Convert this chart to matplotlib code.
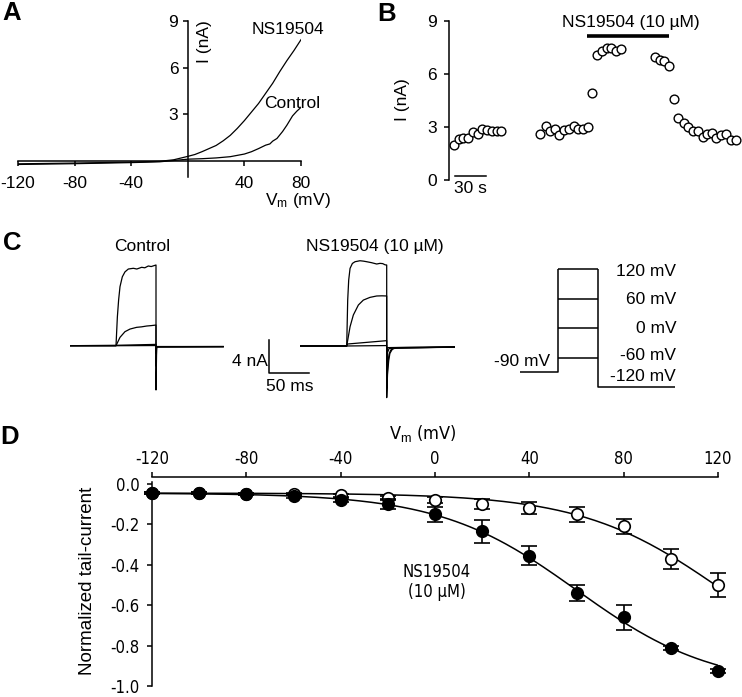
import numpy as np
import matplotlib
matplotlib.use("Agg")
import matplotlib.pyplot as plt
from matplotlib import font_manager
from matplotlib.font_manager import FontProperties

# ---------------- data ----------------
# Panel A: ramp I-V relations (mV, nA)
a_v_ns = [-120, -80, -40, -20, -10, 0, 5, 10, 15, 20, 25, 30, 35, 40, 45, 50, 55, 60, 65, 70, 75, 80]
a_i_ns = [-0.18, -0.13, -0.07, -0.02, 0.08, 0.3, 0.42, 0.6, 0.8, 1.0, 1.3, 1.65, 2.1, 2.6, 3.15,
          3.7, 4.35, 5.0, 5.75, 6.45, 7.1, 7.8]
a_v_ctrl = [-120, -80, -40, -20, 0, 10, 20, 30, 40, 45, 50, 55, 58, 60, 63, 67, 70, 74, 77, 80]
a_i_ctrl = [-0.22, -0.17, -0.1, -0.05, 0.12, 0.15, 0.2, 0.28, 0.45, 0.6, 0.8, 1.02, 1.1, 1.28,
            1.45, 1.9, 2.3, 2.9, 3.2, 3.45]
a_xticks = [-120, -80, -40, 40, 80]
a_yticks = [3, 6, 9]

# Panel B: time course (s, nA)
b_time_s = [4.9, 9.3, 14.0, 18.9, 23.7, 27.9, 31.9, 36.8, 41.7, 46.6, 50.8,
            88.9, 94.3, 98.4, 103.3, 107.7, 112.4, 117.0, 121.8, 126.2, 130.9, 135.8,
            140.0, 144.6, 149.0, 153.9, 158.6, 163.3, 167.9,
            201.1, 205.9, 210.3, 215.2,
            219.8, 224.0, 228.9, 233.2, 238.1, 242.6, 247.5, 251.8, 256.7, 260.9,
            265.7, 270.3, 275.2, 280.1]
b_current_na = [2.0, 2.3, 2.4, 2.4, 2.7, 2.6, 2.9, 2.85, 2.75, 2.75, 2.75,
                2.6, 3.05, 2.8, 2.9, 2.55, 2.85, 2.9, 3.05, 2.9, 2.9, 3.0,
                4.9, 7.1, 7.3, 7.5, 7.5, 7.3, 7.4,
                6.95, 6.8, 6.75, 6.45,
                4.6, 3.5, 3.2, 3.0, 2.8, 2.8, 2.45, 2.6, 2.65, 2.4,
                2.55, 2.6, 2.25, 2.25]
b_drug_on_s = 134.5
b_drug_off_s = 214.7
b_yticks = [0, 3, 6, 9]
b_scalebar_s = 30

# Panel C: current traces (ms, nA)
c_ctrl_t = [
    [-58, 0, 1.7, 3.3, 5, 7.9, 11.2, 15.4, 21.7, 26, 32.1, 36, 40.4, 44, 50, 50, 50.8, 134],
    [-58, 0, 5, 11.2, 17.5, 25.8, 32, 38.3, 44, 50, 50, 50.8, 134],
    [-58, 0, 50, 50, 50.8, 134],
    [-58, 0, 50, 50, 50.8, 134],
]
c_ctrl_i = [
    [0, 0, 3.5, 5.6, 7.2, 8.4, 9.0, 9.35, 9.44, 9.35, 9.56, 9.5, 9.72, 9.65, 9.84, -5.4, -0.15, -0.12],
    [0, 0, 1.02, 1.71, 2.03, 2.24, 2.3, 2.4, 2.45, 2.52, -2.5, -0.15, -0.12],
    [0, 0.05, 0.16, -1.0, -0.12, -0.1],
    [0, 0, 0.02, -0.5, -0.1, -0.1],
]
c_ns_t = [
    [-58, 0, 1.25, 2.5, 4.2, 7.1, 10.4, 16.6, 21, 25, 31.2, 37.5, 41.6, 45, 48, 50, 50, 51, 52.5, 54, 57, 62, 135],
    [-58, 0, 4.2, 8.3, 14.6, 20.8, 29.1, 37.5, 44, 50, 50, 51.5, 53, 55, 59, 135],
    [-58, 0, 1, 50, 50, 51, 53, 135],
    [-58, 0, 50, 50, 51, 135],
]
c_ns_i = [
    [0, 0, 5.6, 8.05, 9.47, 10.07, 10.28, 10.4, 10.35, 10.28, 10.16, 10.0, 10.08, 10.05, 9.9, 9.88, -6.3, -3.5, -1.8, -0.9, -0.4, -0.2, -0.15],
    [0, 0, 2.35, 3.78, 5.0, 5.6, 5.93, 6.1, 6.12, 6.1, -4.5, -2.0, -1.0, -0.5, -0.25, -0.15],
    [0, 0, 0.24, 0.65, -2.5, -0.8, -0.3, -0.12],
    [0, 0, 0.05, -1.0, -0.2, -0.08],
]
c_scale_na = 4
c_scale_ms = 50
# voltage protocol
p_levels_mv = [120, 60, 0, -60]
p_hold_mv = -90
p_tail_mv = -120
p_step_ms = 50
p_pre_ms = 47.5
p_post_ms = 96
p_labels = ["120 mV", "60 mV", "0 mV", "-60 mV", "-120 mV"]

# Panel D: normalized tail current vs Vm
d_v = [-120, -100, -80, -60, -40, -20, 0, 20, 40, 60, 80, 100, 120]
d_ctrl = [-0.045, -0.045, -0.05, -0.05, -0.055, -0.07, -0.08, -0.10, -0.12, -0.15, -0.21, -0.37, -0.50]
d_ctrl_err = [0.005, 0.005, 0.005, 0.005, 0.008, 0.01, 0.015, 0.025, 0.03, 0.037, 0.037, 0.05, 0.06]
d_ns = [-0.045, -0.045, -0.05, -0.06, -0.08, -0.10, -0.15, -0.235, -0.355, -0.54, -0.66, -0.81, -0.925]
d_ns_err = [0.005, 0.005, 0.005, 0.008, 0.01, 0.025, 0.038, 0.056, 0.047, 0.04, 0.061, 0.01, 0.01]
# Boltzmann fit parameters (base, amplitude, V1/2, slope)
d_fit_ctrl = (-0.045, -0.96, 122.0, 30.0)
d_fit_ns = (-0.045, -0.96, 60.0, 29.0)
d_xticks = [-120, -80, -40, 0, 40, 80, 120]
d_yticks = [0.0, -0.2, -0.4, -0.6, -0.8, -1.0]

# ---------------- style ----------------
W, H, DPI = 742, 697, 100
plt.rcParams['font.family'] = ['Liberation Sans', 'DejaVu Sans']
plt.rcParams['font.size'] = 12.5
plt.rcParams['mathtext.fontset'] = 'custom'
plt.rcParams['mathtext.rm'] = 'Liberation Sans'
plt.rcParams['mathtext.it'] = 'Liberation Sans'
plt.rcParams['axes.linewidth'] = 1.1
for k in ['xtick', 'ytick']:
    plt.rcParams[k + '.major.width'] = 1.1
    plt.rcParams[k + '.major.size'] = 3.8
    plt.rcParams[k + '.direction'] = 'out'

# narrow font for panel D if available
narrow_path = None
narrow_size = 13
for f in font_manager.fontManager.ttflist:
    if f.name == 'Liberation Sans Narrow' and f.style == 'normal' and str(f.weight) in ('400', 'normal', 'regular'):
        narrow_path = f.fname
        break
if narrow_path is None:
    for f in font_manager.fontManager.ttflist:
        if f.name == 'DejaVu Sans' and f.stretch == 'condensed' and f.style == 'normal' and str(f.weight) in ('400', 'normal'):
            narrow_path = f.fname
            narrow_size = 12
            break
if narrow_path is not None:
    fpD = FontProperties(fname=narrow_path, size=narrow_size)
    fpDv = FontProperties(fname=narrow_path, size=narrow_size + 1)
else:
    fpD = FontProperties(family='Liberation Sans', size=11.5)
    fpDv = FontProperties(family='Liberation Sans', size=12.5)

fig = plt.figure(figsize=(W / DPI, H / DPI), dpi=DPI)


def add_ax(left, top, width, height):
    return fig.add_axes([left / W, 1 - (top + height) / H, width / W, height / H])


def ftext(x, y, s, **kw):
    return fig.text(x / W, 1 - y / H, s, **kw)


# ---------------- Panel A ----------------
axA = add_ax(18, 21, 283, 155.6)
axA.plot(a_v_ns, a_i_ns, color='black', lw=0.9)
axA.plot(a_v_ctrl, a_i_ctrl, color='black', lw=0.9)
axA.set_xlim(-120, 80)
axA.set_ylim(-1, 9)
axA.spines['left'].set_position(('data', 0))
axA.spines['bottom'].set_position(('data', 0))
axA.spines['top'].set_visible(False)
axA.spines['right'].set_visible(False)
axA.set_xticks(a_xticks)
axA.set_xticklabels([str(v) for v in a_xticks])
axA.set_yticks(a_yticks)
axA.set_yticklabels([str(v) for v in a_yticks])
axA.tick_params(axis='x', pad=7)
axA.tick_params(axis='y', pad=3)
axA.patch.set_alpha(0)
ftext(205, 42, 'I (nA)', rotation=90, ha='center', va='center')
ftext(288, 30, 'NS19504', ha='center', va='center')
ftext(292, 103, 'Control', ha='center', va='center')
ftext(298, 201, r'V$_\mathrm{m}$ (mV)', ha='center', va='center')

# ---------------- Panel B ----------------
axB = add_ax(449, 21, 293, 159)
axB.plot(b_time_s, b_current_na, 'o', mfc='white', mec='black', ms=6.3, mew=1.0, clip_on=False)
axB.plot([b_drug_on_s, b_drug_off_s], [8.15, 8.15], color='black', lw=2.6, solid_capstyle='butt', clip_on=False)
axB.plot([6, 6 + b_scalebar_s], [0.22, 0.22], color='black', lw=1.1, clip_on=False)
axB.text(6 + b_scalebar_s / 2, -0.5, f'{b_scalebar_s} s', ha='center', va='center')
axB.set_xlim(0, 286)
axB.set_ylim(0, 9)
for s in ['top', 'right', 'bottom']:
    axB.spines[s].set_visible(False)
axB.set_xticks([])
axB.set_yticks(b_yticks)
axB.set_yticklabels([str(v) for v in b_yticks])
axB.tick_params(axis='y', pad=5)
axB.patch.set_alpha(0)
ftext(402, 100, 'I (nA)', rotation=90, ha='center', va='center')
ftext(631, 23, 'NS19504 (10 µM)', ha='center', va='center')

# ---------------- Panel C ----------------
axC1 = add_ax(69.6, 255, 154.4, 145)
for t, i in zip(c_ctrl_t, c_ctrl_i):
    axC1.plot(t, i, color='black', lw=0.9)
axC1.set_xlim(-58, 135)
axC1.set_ylim(-6.62, 11.06)
axC1.axis('off')
# scale bar
sx, sy = 191.6, -3.29
axC1.plot([sx, sx, sx + c_scale_ms], [sy + c_scale_na, sy, sy], color='black', lw=1.1, clip_on=False)
axC1.text(sx - 1.5, -1.87, f'{c_scale_na} nA', ha='right', va='center')
axC1.text(sx + c_scale_ms / 2, -4.92, f'{c_scale_ms} ms', ha='center', va='center')

axC2 = add_ax(300.3, 255, 154.4, 145)
for t, i in zip(c_ns_t, c_ns_i):
    axC2.plot(t, i, color='black', lw=0.9)
axC2.set_xlim(-58, 135)
axC2.set_ylim(-6.59, 11.1)
axC2.axis('off')

ftext(142, 246, 'Control', ha='center', va='center')
ftext(375, 246, 'NS19504 (10 µM)', ha='center', va='center')

# protocol
axP = add_ax(520, 255, 155, 145)
axP.set_xlim(-p_pre_ms, p_step_ms + p_post_ms)
axP.set_ylim(-146.4, 148.5)
axP.axis('off')
kP = dict(color='black', lw=1.1, solid_capstyle='butt')
axP.plot([-p_pre_ms, 0, 0], [p_hold_mv, p_hold_mv, max(p_levels_mv)], **kP)
for lv in p_levels_mv:
    axP.plot([0, p_step_ms], [lv, lv], **kP)
axP.plot([p_step_ms, p_step_ms, p_step_ms + p_post_ms], [max(p_levels_mv), p_tail_mv, p_tail_mv], **kP)
lab_x = p_step_ms + p_post_ms + 1.5
lab_y = [114.5, 57, 0, -56, -98.5]
for s, yv in zip(p_labels, lab_y):
    axP.text(lab_x, yv, s, ha='right', va='center', clip_on=False)
axP.text(-10, -68, f'{p_hold_mv} mV', ha='right', va='center', clip_on=False)

# ---------------- Panel D ----------------
axD = add_ax(152, 477, 566, 209)
vv = np.linspace(-120, 120, 241)
for (b, a, vh, k) in [d_fit_ctrl, d_fit_ns]:
    axD.plot(vv, b + a / (1 + np.exp((vh - vv) / k)), color='black', lw=1.1)
axD.errorbar(d_v, d_ctrl, yerr=d_ctrl_err, fmt='o', mfc='white', mec='black', ecolor='black',
             ms=8.3, mew=1.2, elinewidth=1.2, capsize=6, capthick=1.2, clip_on=False, zorder=3)
axD.errorbar(d_v, d_ns, yerr=d_ns_err, fmt='o', mfc='black', mec='black', ecolor='black',
             ms=8.3, mew=1.2, elinewidth=1.2, capsize=6, capthick=1.2, clip_on=False, zorder=4)
axD.set_xlim(-120, 120)
axD.set_ylim(-1.0, 0.0347)
axD.xaxis.tick_top()
axD.spines['bottom'].set_visible(False)
axD.spines['right'].set_visible(False)
axD.spines['left'].set_bounds(-1.0, 0.01)
axD.set_xticks(d_xticks)
axD.set_xticklabels([str(v) for v in d_xticks])
axD.set_yticks(d_yticks)
axD.set_yticklabels([f'{v:.1f}' for v in d_yticks])
axD.tick_params(axis='x', pad=3)
axD.tick_params(axis='y', pad=5)
for lbl in axD.get_xticklabels() + axD.get_yticklabels():
    lbl.set_fontproperties(fpD)
axD.patch.set_alpha(0)
ftext(423, 433, r'V$_\mathrm{m}$ (mV)', ha='center', va='center', fontproperties=fpDv)
ftext(88, 581, 'Normalized tail-current', rotation=90, ha='center', va='center', fontsize=13.5)
ftext(437, 582, 'NS19504\n(10 µM)', ha='center', va='center', multialignment='center',
      linespacing=1.2, fontproperties=fpD)

# ---------------- panel letters ----------------
for s, (x, y) in {'A': (12, 12.5), 'B': (387, 14), 'C': (12, 243), 'D': (10, 437)}.items():
    ftext(x, y, s, ha='center', va='center', fontsize=18.5, fontweight='bold')

fig.savefig('out.png', dpi=DPI)
